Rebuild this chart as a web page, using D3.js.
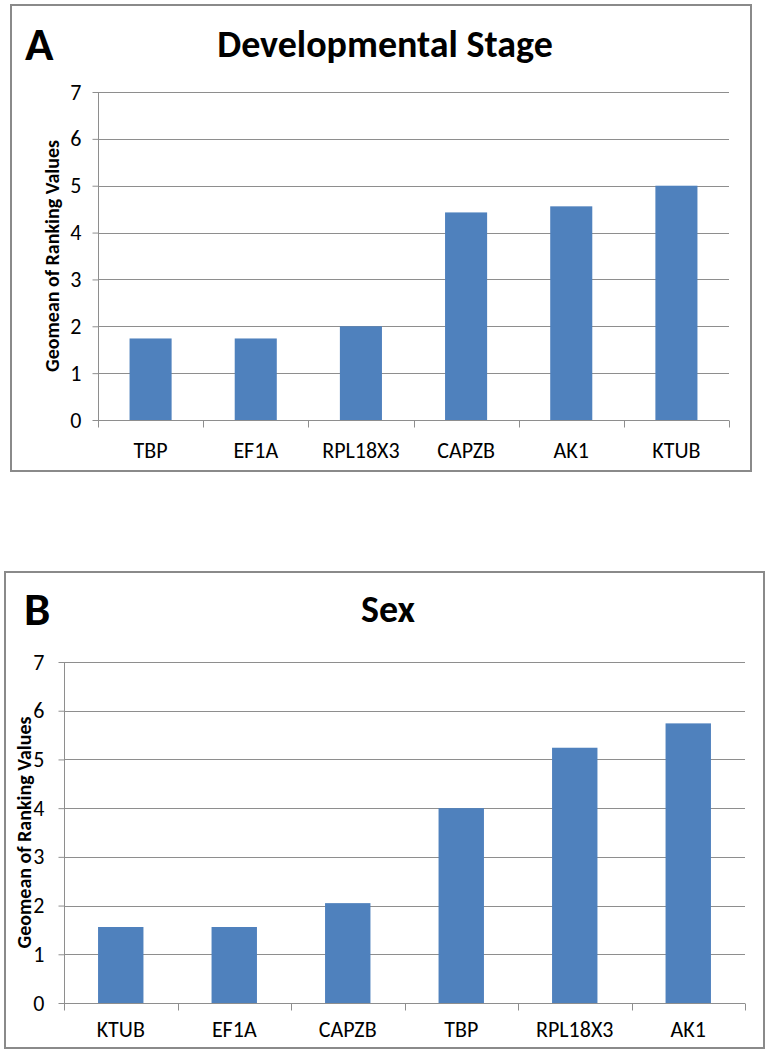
<!DOCTYPE html>
<html>
<head>
<meta charset="utf-8">
<script src="https://cdn.jsdelivr.net/npm/d3@7"></script>
<style>
  html, body { margin: 0; padding: 0; background: #fff; }
  svg { display: block; }
  text { font-family: Carlito, Lato, "Open Sans", sans-serif; fill: #000; }
  .grid line { stroke: #8e8e8e; stroke-width: 1; }
  .axis path, .axis line { stroke: #8e8e8e; stroke-width: 1; }
  .axis text { font-size: 22px; }
</style>
</head>
<body>
<svg id="chart" width="770" height="1060"></svg>
<script>
// panel A - developmental stage
const stageGenes = ['TBP', 'EF1A', 'RPL18X3', 'CAPZB', 'AK1', 'KTUB'];
const stageValues = [1.74, 1.74, 2.0, 4.43, 4.56, 5.0];

// panel B - sex
const sexGenes = ['KTUB', 'EF1A', 'CAPZB', 'TBP', 'RPL18X3', 'AK1'];
const sexValues = [1.56, 1.56, 2.05, 4.0, 5.24, 5.74];

const yTicks = [0, 1, 2, 3, 4, 5, 6, 7];
const yLabel = 'Geomean of Ranking Values';
const BAR_COLOR = '#4f81bd';

const svg = d3.select('#chart');

const panels = [
  {
    letter: 'A', title: 'Developmental Stage', genes: stageGenes, values: stageValues,
    box: { x: 11, y: 5, w: 740, h: 466 },
    plot: { left: 98, right: 729, top: 92, bottom: 420 },
    letterPos: [25, 60], titlePos: [385, 57], yLabelX: 52, xLabelDy: 37, tickPad: 11
  },
  {
    letter: 'B', title: 'Sex', genes: sexGenes, values: sexValues,
    box: { x: 5, y: 572, w: 759, h: 476 },
    plot: { left: 64, right: 745, top: 662, bottom: 1003 },
    letterPos: [24, 625], titlePos: [388, 622], yLabelX: 24, xLabelDy: 33, tickPad: 14
  }
];

function drawPanel (p) {
  const g = svg.append('g').classed('panel', true);

  g.append('rect')
    .attr('x', p.box.x).attr('y', p.box.y)
    .attr('width', p.box.w).attr('height', p.box.h)
    .attr('fill', '#fff')
    .attr('stroke', '#8a8a8a')
    .attr('stroke-width', 2);

  const x = d3.scaleBand()
    .domain(p.genes)
    .range([p.plot.left, p.plot.right])
    .paddingInner(0.6)
    .paddingOuter(0.3);
  // band used for the category tick marks (no padding)
  const xTicksScale = d3.scaleBand()
    .domain(p.genes)
    .range([p.plot.left, p.plot.right]);
  const y = d3.scaleLinear()
    .domain([0, 7])
    .range([p.plot.bottom, p.plot.top]);

  // gridlines
  g.append('g').classed('grid', true)
    .selectAll('line').data(yTicks.filter(d => d > 0))
    .enter().append('line')
    .attr('x1', p.plot.left).attr('x2', p.plot.right)
    .attr('y1', d => Math.round(y(d)) + 0.5)
    .attr('y2', d => Math.round(y(d)) + 0.5);

  // bars
  g.append('g').classed('bars', true)
    .selectAll('rect').data(p.genes)
    .enter().append('rect')
    .attr('x', d => x(d))
    .attr('width', x.bandwidth())
    .attr('y', (d, i) => y(p.values[i]))
    .attr('height', (d, i) => y(0) - y(p.values[i]))
    .attr('fill', BAR_COLOR);

  // y axis
  const yAxis = g.append('g').classed('axis', true)
    .attr('transform', `translate(${Math.round(p.plot.left) + 0.5},0)`)
    .call(d3.axisLeft(y).tickValues(yTicks).tickFormat(d3.format('d'))
      .tickSize(6).tickSizeOuter(0).tickPadding(p.tickPad));
  yAxis.select('.domain').attr('d', `M0,${y(7)}V${y(0) + 6}`);

  // x axis: baseline with ticks at category boundaries
  const xAxis = g.append('g').classed('axis', true)
    .attr('transform', `translate(0,${Math.round(y(0)) + 0.5})`);
  xAxis.append('line')
    .attr('x1', p.plot.left).attr('x2', p.plot.right);
  xAxis.selectAll('.tickmark')
    .data(p.genes.concat(['__end']))
    .enter().append('line')
    .classed('tickmark', true)
    .attr('x1', (d, i) => Math.round(i < p.genes.length ? xTicksScale(d) : p.plot.right) + 0.5)
    .attr('x2', (d, i) => Math.round(i < p.genes.length ? xTicksScale(d) : p.plot.right) + 0.5)
    .attr('y1', 0).attr('y2', 7);
  xAxis.selectAll('.label')
    .data(p.genes)
    .enter().append('text')
    .attr('x', d => xTicksScale(d) + xTicksScale.bandwidth() / 2)
    .attr('y', p.xLabelDy)
    .attr('text-anchor', 'middle')
    .style('font-size', '22px')
    .text(d => d);

  // y axis title
  g.append('text')
    .attr('transform', `translate(${p.yLabelX},${(y(0) + y(7)) / 2}) rotate(-90)`)
    .attr('text-anchor', 'middle')
    .attr('dy', '0.35em')
    .style('font-size', '20px')
    .style('font-weight', 'bold')
    .text(yLabel);

  // chart title and panel letter
  g.append('text')
    .attr('x', p.titlePos[0]).attr('y', p.titlePos[1])
    .attr('text-anchor', 'middle')
    .style('font-size', '38px')
    .style('font-weight', 'bold')
    .text(p.title);
  g.append('text')
    .attr('x', p.letterPos[0]).attr('y', p.letterPos[1])
    .style('font-size', '47px')
    .style('font-weight', 'bold')
    .text(p.letter);
}

panels.forEach(drawPanel);
</script>
</body>
</html>
